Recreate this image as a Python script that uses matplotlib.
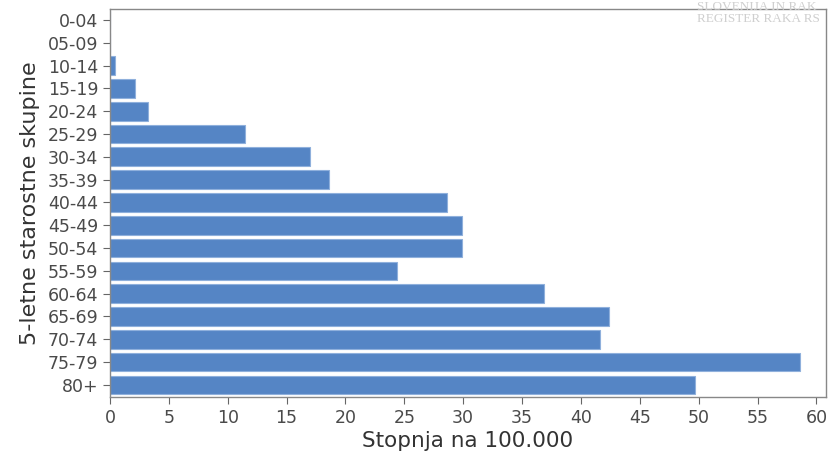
import matplotlib.pyplot as plt

# Age groups and rates per 100,000
groups = ['0-04', '05-09', '10-14', '15-19', '20-24', '25-29', '30-34', '35-39',
          '40-44', '45-49', '50-54', '55-59', '60-64', '65-69', '70-74', '75-79', '80+']
rates = [0.0, 0.0, 0.4, 2.1, 3.2, 11.5, 17.0, 18.6,
         28.6, 29.9, 29.9, 24.4, 36.9, 42.4, 41.6, 58.6, 49.7]
xticks = list(range(0, 61, 5))

fig = plt.figure(figsize=(8.35, 4.51), dpi=100)
ax = fig.add_axes([0.1317, 0.1197, 0.8573, 0.8603])

ypos = list(range(len(groups)))
ax.barh(ypos, rates, height=0.82, color='#5585c5', edgecolor='#8fb0dc', linewidth=0.8)

ax.set_ylim(len(groups) - 0.47, -0.48)
ax.set_xlim(0, 60.8)
ax.set_yticks(ypos)
ax.set_yticklabels(groups)
ax.set_xticks(xticks)

ax.tick_params(axis='both', colors='#666666', length=5, labelcolor='#4a4a4a', labelsize=12.5)
for s in ax.spines.values():
    s.set_color('#888888')
    s.set_linewidth(1.0)

ax.set_xlabel('Stopnja na 100.000', fontsize=15.5, color='#333333', labelpad=3)
ax.set_ylabel('5-letne starostne skupine', fontsize=16, color='#333333', labelpad=5)

# watermark at top right
fig.text(0.835, 0.985, 'SLOVENIJA IN RAK', fontsize=9.5, color='#cfcfcf',
         family='Liberation Serif', va='center', ha='left')
fig.text(0.835, 0.958, 'REGISTER RAKA RS', fontsize=9.5, color='#cfcfcf',
         family='Liberation Serif', va='center', ha='left')

fig.savefig('out.png', dpi=100)
